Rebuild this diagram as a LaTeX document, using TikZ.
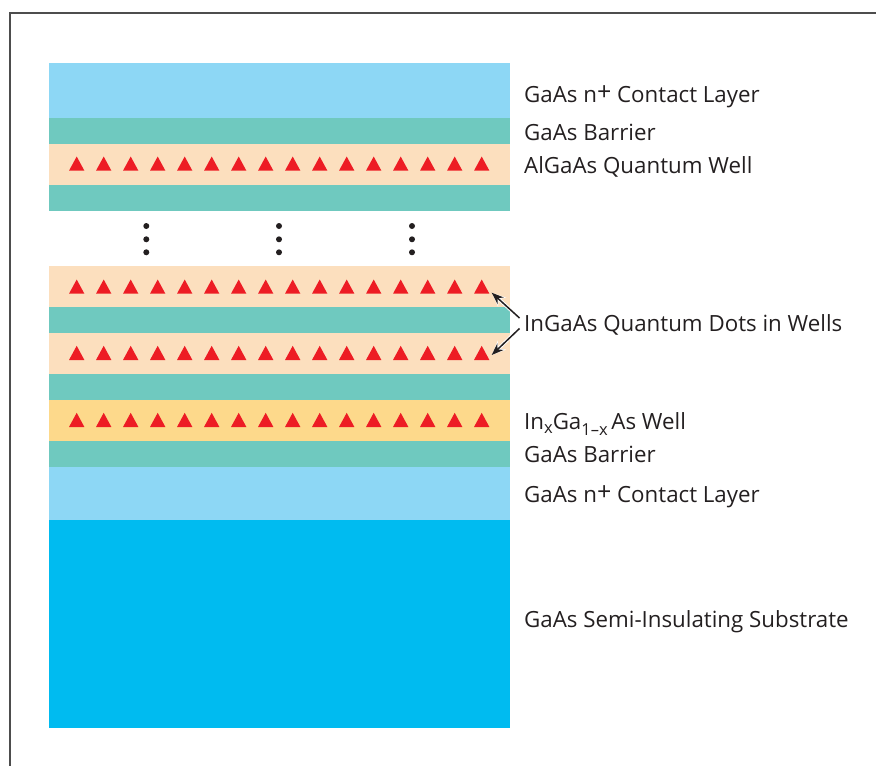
\documentclass[tikz,border=0pt]{standalone}
\usepackage{fontspec}
\setmainfont{Open Sans}
\usetikzlibrary{arrows.meta}
\definecolor{contact}{HTML}{8DD7F5}
\definecolor{barrier}{HTML}{6FC9BF}
\definecolor{qdwell}{HTML}{FCDFBE}
\definecolor{inwell}{HTML}{FDD98B}
\definecolor{substrate}{HTML}{00BBF0}
\definecolor{dotred}{HTML}{ED1C24}
\definecolor{txt}{HTML}{231F20}
\definecolor{frame}{HTML}{4D4D4D}
\newcommand{\lplus}{\raisebox{1.8pt}{\fontsize{25}{25}\selectfont +}}
\newcommand{\lsub}[2]{\raisebox{#1}{\fontsize{16.5}{16.5}\selectfont #2}}
\tikzset{
  lbl/.style={anchor=base west, inner sep=0pt, text=txt, font=\fontsize{22.3}{26}\selectfont},
  tri/.style={fill=dotred},
  ptr/.style={draw=txt, line width=1.5pt, -{Stealth[length=12pt,width=9pt]}},
  halo/.style={draw=white, line width=3.4pt, -{Stealth[length=14pt,width=12pt]}},
}
\begin{document}
\begin{tikzpicture}[x=1pt,y=-1pt]
\useasboundingbox (0,0) rectangle (876,766);
% frame
\draw[frame, line width=1.8pt] (10.3,766) -- (10.3,13.3) -- (876,13.3);
% layers
\fill[contact]   (49,62.7) rectangle (510,118);
\fill[barrier]   (49,118) rectangle (510,144);
\fill[qdwell]    (49,144) rectangle (510,185);
\fill[barrier]   (49,185) rectangle (510,211);
\fill[qdwell]    (49,266) rectangle (510,307);
\fill[barrier]   (49,307) rectangle (510,333);
\fill[qdwell]    (49,333) rectangle (510,374);
\fill[barrier]   (49,374) rectangle (510,400);
\fill[inwell]    (49,400) rectangle (510,441);
\fill[barrier]   (49,441) rectangle (510,467);
\fill[contact]   (49,467) rectangle (510,520);
\fill[substrate] (49,520) rectangle (510,727.7);
% triangles
\foreach \yb in {170.7,293.7,360,427}{
  \foreach \k in {0,...,15}{
    \fill[tri] ({76.7+27*\k-7.7},\yb) -- ({76.7+27*\k+7.7},\yb) -- ({76.7+27*\k},\yb-14.2) -- cycle;
  }
}
% continuation dots
\foreach \x in {146.3,279,412}{
  \foreach \y in {226,239.3,252.3}{
    \fill[txt] (\x,\y) circle (3pt);
  }
}
% labels
\node[lbl] (l1) at (524,102.7) {GaAs n\lplus\ Contact Layer};
\node[lbl] (l2) at (524,140.7) {GaAs Barrier};
\node[lbl] (l3) at (524,173.3) {AlGaAs Quantum Well};
\node[lbl] (l4) at (524,331) {InGaAs Quantum Dots in Wells};
\node[lbl] (l5) at (524,429) {In\lsub{-4pt}{x}Ga\lsub{-6.5pt}{1–x}\,As Well};
\node[lbl] (l6) at (524,462.7) {GaAs Barrier};
\node[lbl] (l7) at (524,502.3) {GaAs n\lplus\ Contact Layer};
\node[lbl] (l8) at (524,627.7) {GaAs Semi-Insulating Substrate};
% arrows
\coordinate (aS1) at (519.5,318);
\coordinate (aS2) at (519.5,328.5);
\coordinate (aT1) at (491.7,292.7);
\coordinate (aT2) at (491.7,355);
\draw[halo] (aS1) -- (aT1);
\draw[halo] (aS2) -- (aT2);
\draw[ptr] (aS1) -- (aT1);
\draw[ptr] (aS2) -- (aT2);
\end{tikzpicture}
\end{document}
